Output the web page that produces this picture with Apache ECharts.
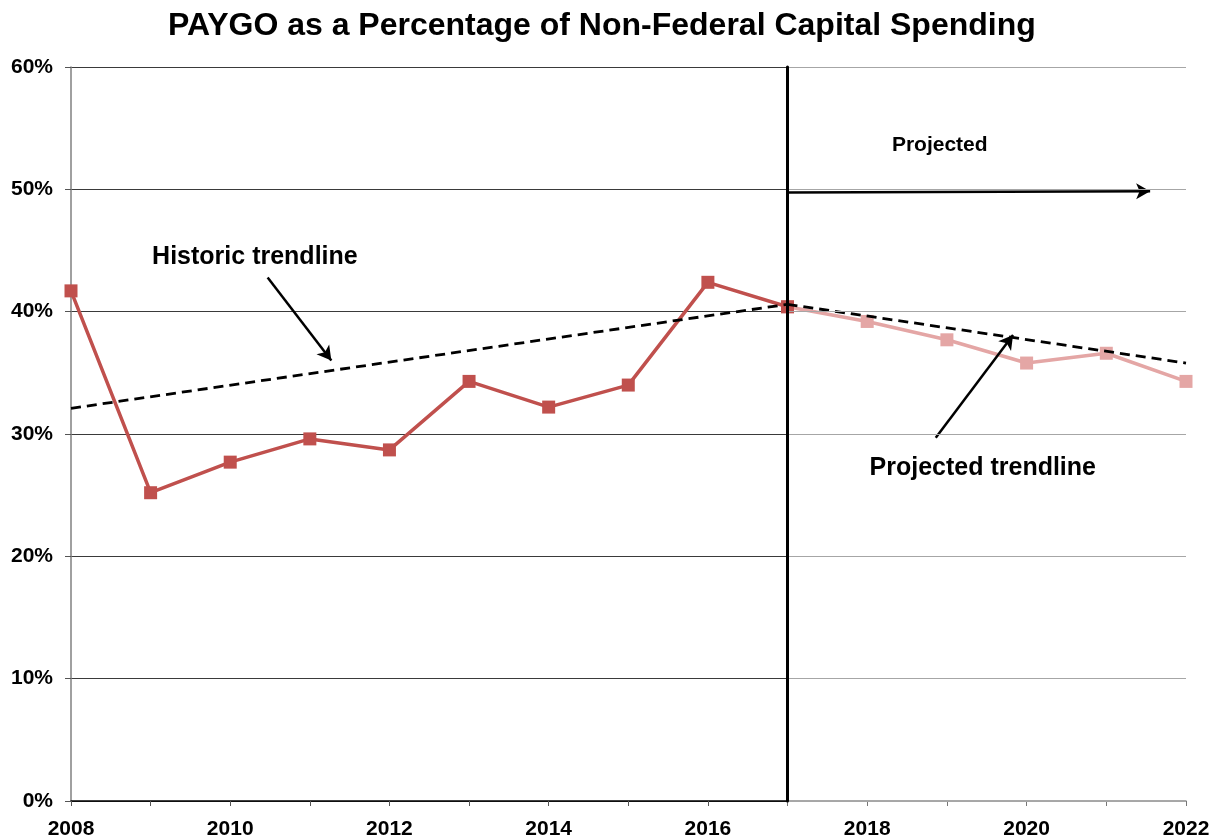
<!DOCTYPE html>
<html>
<head>
<meta charset="utf-8">
<script src="https://cdn.jsdelivr.net/npm/echarts@6/dist/echarts.min.js"></script>
<style>
html,body{margin:0;padding:0;background:#fff;}
#chart{width:1219px;height:840px;}
</style>
</head>
<body>
<div id="chart"></div>
<script>
// ---- data ----
var historicYears = [2008, 2009, 2010, 2011, 2012, 2013, 2014, 2015, 2016, 2017];
var historicValues = [41.7, 25.2, 27.7, 29.6, 28.7, 34.3, 32.2, 34.0, 42.4, 40.4];
var projectedYears = [2017, 2018, 2019, 2020, 2021, 2022];
var projectedValues = [40.4, 39.2, 37.7, 35.8, 36.6, 34.3];
var historicTrendYears = [2008, 2017];
var historicTrendValues = [32.1, 40.6];
var projectedTrendYears = [2017, 2022];
var projectedTrendValues = [40.6, 35.8];
var yTicks = [0, 10, 20, 30, 40, 50, 60];
var titleText = 'PAYGO as a Percentage of Non-Federal Capital Spending';

function pairs(xs, ys) { return xs.map(function (x, i) { return [x, ys[i]]; }); }

var FONT = '"Liberation Sans", Arial, sans-serif';
var chart = echarts.init(document.getElementById('chart'));

var labelStyle = { color: '#000', fontWeight: 'bold', fontFamily: FONT };

chart.setOption({
  animation: false,
  backgroundColor: '#fff',
  title: {
    text: titleText,
    left: 163,
    top: 5,
    textStyle: { fontFamily: FONT, fontWeight: 'bold', fontSize: 32, color: '#000' }
  },
  grid: [
    { left: 71, top: 67, bottom: 39, width: 716.5, containLabel: false },
    { left: 787.5, top: 67, bottom: 39, right: 33, containLabel: false }
  ],
  xAxis: [
    {
      type: 'value', gridIndex: 0, min: 2008, max: 2017, interval: 1,
      axisLine: { show: true, onZero: false, lineStyle: { color: '#000', width: 1.5 } },
      axisTick: { show: true, length: 5, lineStyle: { color: '#555' } },
      axisLabel: Object.assign({ fontSize: 21, margin: 18, formatter: function (v) { return v % 2 === 0 ? String(v) : ''; } }, labelStyle),
      splitLine: { show: false }
    },
    {
      type: 'value', gridIndex: 1, min: 2017, max: 2022, interval: 1,
      axisLine: { show: true, onZero: false, lineStyle: { color: '#8c8c8c', width: 1.5 } },
      axisTick: { show: true, length: 5, lineStyle: { color: '#777' } },
      axisLabel: Object.assign({ fontSize: 21, margin: 18, formatter: function (v) { return (v % 2 === 0) ? String(v) : ''; } }, labelStyle),
      splitLine: { show: false }
    }
  ],
  yAxis: [
    {
      type: 'value', gridIndex: 0, min: yTicks[0], max: yTicks[yTicks.length - 1], interval: 10,
      axisLine: { show: true, lineStyle: { color: '#808080', width: 1.5 } },
      axisTick: { show: true, length: 6, lineStyle: { color: '#555' } },
      axisLabel: Object.assign({ fontSize: 21, margin: 18, formatter: '{value}%' }, labelStyle),
      splitLine: { show: true, lineStyle: { color: '#3a3a3a', width: 1.2 } }
    },
    {
      type: 'value', gridIndex: 1, min: yTicks[0], max: yTicks[yTicks.length - 1], interval: 10,
      z: 6,
      axisLine: { show: true, lineStyle: { color: '#000', width: 3 } },
      axisTick: { show: false },
      axisLabel: { show: false },
      splitLine: { show: true, lineStyle: { color: '#a6a6a6', width: 1.2 } }
    }
  ],
  series: [
    {
      name: 'Projected', type: 'line', xAxisIndex: 1, yAxisIndex: 1, z: 3,
      data: pairs(projectedYears, projectedValues),
      symbol: 'rect', symbolSize: 13,
      lineStyle: { color: '#E4A6A5', width: 3.5 },
      itemStyle: { color: '#E4A6A5' }
    },
    {
      name: 'Historic', type: 'line', xAxisIndex: 0, yAxisIndex: 0, z: 4,
      data: pairs(historicYears, historicValues),
      symbol: 'rect', symbolSize: 13,
      lineStyle: { color: '#C0504D', width: 3.5 },
      itemStyle: { color: '#C0504D' }
    },
    {
      name: 'Historic trend', type: 'line', xAxisIndex: 0, yAxisIndex: 0, z: 5,
      data: pairs(historicTrendYears, historicTrendValues),
      symbol: 'none',
      lineStyle: { color: '#000', width: 2.8, type: [10, 6] },
      markLine: {
        silent: true, symbol: ['none', 'arrow'], symbolSize: [12, 14],
        lineStyle: { color: '#000', width: 2.5, type: 'solid' },
        label: { show: false },
        data: [[{ coord: [2010.47, 42.8] }, { coord: [2011.27, 36.0] }]]
      },
      markPoint: {
        silent: true, symbol: 'circle', symbolSize: 0,
        label: { show: true, position: 'inside', fontFamily: FONT, fontWeight: 'bold', fontSize: 25, color: '#000', formatter: '{b}' },
        data: [{ name: 'Historic trendline', coord: [2010.31, 44.5] }]
      }
    },
    {
      name: 'Projected trend', type: 'line', xAxisIndex: 1, yAxisIndex: 1, z: 5,
      data: pairs(projectedTrendYears, projectedTrendValues),
      symbol: 'none',
      lineStyle: { color: '#000', width: 2.8, type: [10, 6] },
      markLine: {
        silent: true, symbol: ['none', 'arrow'], symbolSize: [12, 14],
        lineStyle: { color: '#000', width: 2.5, type: 'solid' },
        label: { show: false },
        data: [
          [{ coord: [2018.86, 29.7] }, { coord: [2019.83, 38.1] }],
          [{ coord: [2017, 49.75] }, { coord: [2021.55, 49.85] }]
        ]
      },
      markPoint: {
        silent: true, symbol: 'circle', symbolSize: 0,
        label: { show: true, position: 'inside', fontFamily: FONT, fontWeight: 'bold', fontSize: 25, color: '#000', formatter: '{b}' },
        data: [
          { name: 'Projected trendline', coord: [2019.45, 27.2] },
          { name: 'Projected', coord: [2018.91, 53.6], label: { fontSize: 21 } }
        ]
      }
    }
  ]
});
</script>
</body>
</html>
